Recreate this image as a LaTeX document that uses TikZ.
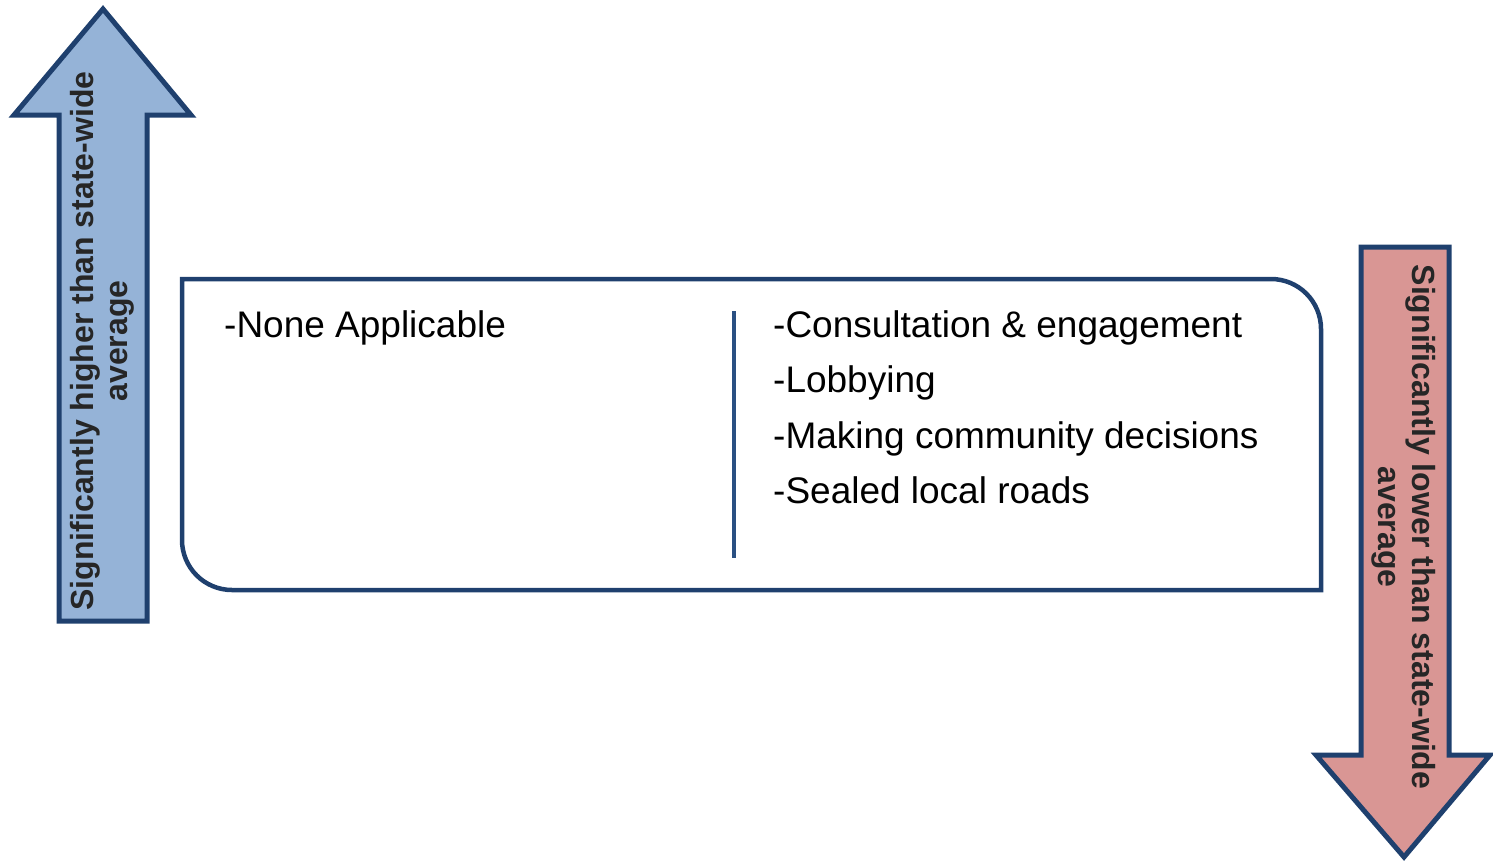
\documentclass[tikz,border=0pt]{standalone}
\usepackage{fontspec}
\setmainfont{Liberation Sans}
\usepackage{tikz}
\definecolor{edgeblue}{HTML}{1F406E}
\definecolor{rulerblue}{HTML}{2A5082}
\definecolor{upfill}{HTML}{95B3D7}
\definecolor{downfill}{HTML}{D99694}
\definecolor{labelgray}{HTML}{262626}
\tikzstyle{every node}=[inner sep=0pt]
\tikzstyle{bigarrow}=[draw=edgeblue,line width=5pt,miter limit=10]
\tikzstyle{arrowtext}=[font=\bfseries\fontsize{32}{34}\selectfont,text=labelgray,align=center]
\tikzstyle{boxtext}=[font=\fontsize{37}{44}\selectfont,anchor=base west]
\newcommand{\rowgap}{55.5}

\begin{document}
\begin{tikzpicture}[x=1pt,y=-1pt]
  \useasboundingbox (0,0) rectangle (1493,863);
  % arrow pointing up, left side
  \filldraw[bigarrow,fill=upfill] (59,621) -- (59,115) -- (14,115) -- (103,9)
    -- (191,115) -- (147,115) -- (147,621) -- cycle;
  \node[arrowtext,rotate=90] (higher) at (102,341)
    {Significantly higher than state-wide\\average};
  % arrow pointing down, right side
  \filldraw[bigarrow,fill=downfill] (1361,247) -- (1449,247) -- (1449,755)
    -- (1490,755) -- (1404,857) -- (1316,755) -- (1361,755) -- cycle;
  \node[arrowtext,rotate=-90] (lower) at (1404,527)
    {Significantly lower than state-wide\\average};
  % the box in the middle, two rounded corners
  \draw[edgeblue,line width=4.5pt] (182,279) -- (1271,279)
    arc[start angle=90,end angle=0,radius=50pt] -- (1321,590) -- (232,590)
    arc[start angle=270,end angle=180,radius=50pt] -- cycle;
  \draw[rulerblue,line width=4pt] (734,311) -- (734,558);
  \node[boxtext] (none) at (224,337) {-None Applicable};
  \foreach \txt [count=\i] in {-Consultation \& engagement,-Lobbying,
      -Making community decisions,-Sealed local roads}
    \node[boxtext] (item\i) at (773,{337+\rowgap*(\i-1)}) {\txt};
\end{tikzpicture}
\end{document}
